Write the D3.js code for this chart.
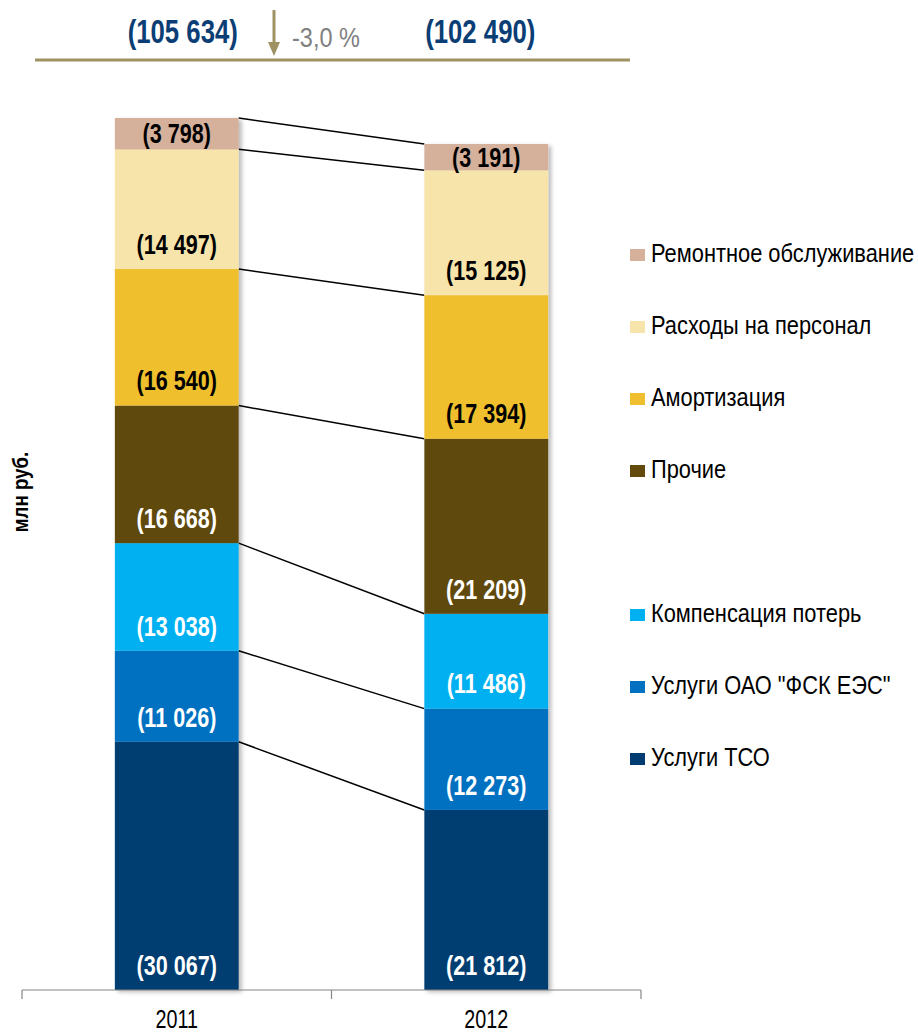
<!DOCTYPE html>
<html>
<head>
<meta charset="utf-8">
<script src="https://cdn.jsdelivr.net/npm/d3@7/dist/d3.min.js"></script>
<style>
  html, body { margin: 0; padding: 0; background: #fff; }
  svg { display: block; }
  text { font-family: "Liberation Sans", Arial, sans-serif; }
</style>
</head>
<body>
<svg id="chart" width="918" height="1034"></svg>
<script>
// Cost structure by year, mln rub (stacked from bottom up)
const years = ["2011", "2012"];
const series = [
  "Услуги ТСО",
  "Услуги ОАО \"ФСК ЕЭС\"",
  "Компенсация потерь",
  "Прочие",
  "Амортизация",
  "Расходы на персонал",
  "Ремонтное обслуживание"
];
const values2011 = [30067, 11026, 13038, 16668, 16540, 14497, 3798];
const values2012 = [21812, 12273, 11486, 21209, 17394, 15125, 3191];
const totals = [105634, 102490];
const changeLabel = "-3,0 %";
const colors = ["#003C71", "#0070C0", "#00B0F0", "#614A0C", "#EFBF2F", "#F7E4AA", "#D5B09B"];
const labelColors = ["#fff", "#fff", "#fff", "#fff", "#000", "#000", "#000"];

const fmt = v => "(" + d3.format(",")(v).replace(/,/g, " ") + ")";

// narrow sans: regular sans squeezed horizontally
function narrowText(g, x, y, str, sx, attrs) {
  const t = g.append("text")
    .attr("transform", `translate(${x},${y}) scale(${sx},1)`)
    .attr("dy", "0.36em")
    .text(str);
  Object.entries(attrs || {}).forEach(([k, v]) => t.attr(k, v));
  return t;
}

const svg = d3.select("#chart");

const defs = svg.append("defs");
const shadow = defs.append("filter").attr("id", "shadow")
  .attr("x", "-10%").attr("y", "-10%").attr("width", "130%").attr("height", "130%");
shadow.append("feDropShadow").attr("dx", 3).attr("dy", 2).attr("stdDeviation", 2)
  .attr("flood-color", "#000").attr("flood-opacity", 0.28);

const x = d3.scaleBand().domain(years).range([22, 641]).padding(0);
const y = d3.scaleLinear().domain([0, totals[0]]).range([990, 118]);
const barW = x.bandwidth() * 0.4;
const barX = yr => x(yr) + (x.bandwidth() - barW) / 2;

// stacked data
const table = years.map((yr, j) => {
  const o = { year: yr };
  series.forEach((s, i) => { o[s] = (j === 0 ? values2011 : values2012)[i]; });
  return o;
});
const stack = d3.stack().keys(series)(table);

// connector lines between segment boundaries
const connectors = svg.append("g");
stack.forEach(layer => {
  connectors.append("line")
    .attr("x1", barX("2011") + barW).attr("y1", y(layer[0][1]))
    .attr("x2", barX("2012")).attr("y2", y(layer[1][1]))
    .attr("stroke", "#000").attr("stroke-width", 1.5);
});

// bars
const bars = svg.append("g");
years.forEach((yr, j) => {
  const g = bars.append("g").attr("filter", "url(#shadow)");
  stack.forEach((layer, i) => {
    const d = layer[j];
    g.append("rect")
      .attr("x", barX(yr)).attr("width", barW)
      .attr("y", y(d[1])).attr("height", y(d[0]) - y(d[1]))
      .attr("fill", colors[i]);
  });
});

// value labels (inside base of each segment)
const labels = svg.append("g");
years.forEach((yr, j) => {
  stack.forEach((layer, i) => {
    const d = layer[j];
    const bottom = y(d[0]);
    const mid = (y(d[0]) + y(d[1])) / 2;
    const cy = Math.max(bottom - 25, mid);
    narrowText(labels, barX(yr) + barW / 2, cy, fmt(d.data[series[i]]), 0.8, {
      "text-anchor": "middle", "font-size": 27, "font-weight": "bold", fill: labelColors[i]
    });
  });
});

// x axis
const axisG = svg.append("g");
axisG.append("line").attr("x1", 22).attr("x2", 641).attr("y1", 990).attr("y2", 990)
  .attr("stroke", "#868686").attr("stroke-width", 1.2);
[22, x("2012"), 641].forEach(t => {
  axisG.append("line").attr("x1", t).attr("x2", t).attr("y1", 990).attr("y2", 999)
    .attr("stroke", "#868686").attr("stroke-width", 1.2);
});
years.forEach(yr => {
  narrowText(axisG, x(yr) + x.bandwidth() / 2, 1019, yr, 0.76, {
    "text-anchor": "middle", "font-size": 26, fill: "#000"
  });
});

// y axis title
svg.append("text")
  .attr("transform", "translate(20,492) rotate(-90) scale(0.85,1)")
  .attr("dy", "0.36em")
  .attr("text-anchor", "middle").attr("font-size", 22).attr("font-weight", "bold")
  .attr("fill", "#000")
  .text("млн руб.");

// totals header
const header = svg.append("g");
header.append("line").attr("x1", 35).attr("x2", 630).attr("y1", 60).attr("y2", 60)
  .attr("stroke", "#9E9262").attr("stroke-width", 3);
years.forEach((yr, j) => {
  narrowText(header, x(yr) + x.bandwidth() / 2 + (j === 0 ? 6 : -6), 31, fmt(totals[j]), 0.78, {
    "text-anchor": "middle", "font-size": 33, "font-weight": "bold", fill: "#0B3E75"
  });
});
// change arrow
header.append("line").attr("x1", 274).attr("x2", 274).attr("y1", 10).attr("y2", 44)
  .attr("stroke", "#9E9262").attr("stroke-width", 3);
header.append("path").attr("d", "M268,42 L280,42 L274,56 Z").attr("fill", "#9E9262");
narrowText(header, 292, 37, changeLabel, 0.84, { "font-size": 28, fill: "#7F7F7F" });

// legend
const legendOrder = series.slice().reverse();
const legendY = [255, 327, 399, 471, 615, 687, 759];
const legend = svg.append("g");
legendOrder.forEach((s, k) => {
  const i = series.indexOf(s);
  legend.append("rect").attr("x", 630).attr("y", legendY[k] - 6).attr("width", 15).attr("height", 12)
    .attr("fill", colors[i]);
  narrowText(legend, 651, legendY[k] - 2, s, 0.84, { "font-size": 26, fill: "#000" });
});
</script>
</body>
</html>
